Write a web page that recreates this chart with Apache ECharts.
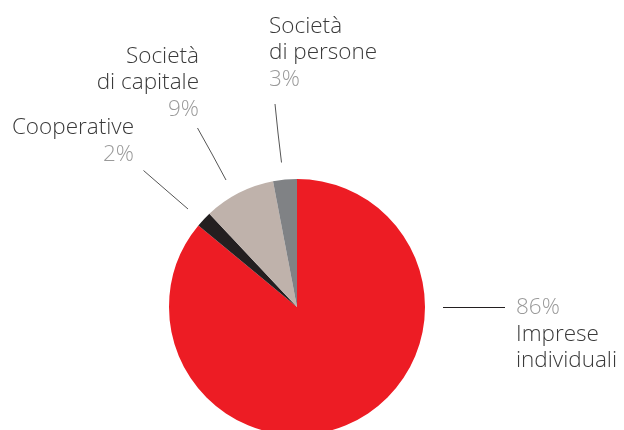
<!DOCTYPE html>
<html><head><meta charset="utf-8">
<script src="https://cdn.jsdelivr.net/npm/echarts@6/dist/echarts.min.js"></script>
<style>html,body{margin:0;padding:0;background:#fff}#c{width:624px;height:430px}</style>
</head><body><div id="c"></div>
<script>
const categories = ['Imprese individuali', 'Cooperative', 'Società di capitale', 'Società di persone'];
const labelLines = [['Imprese', 'individuali'], ['Cooperative'], ['Società', 'di capitale'], ['Società', 'di persone']];
const values = [86, 2, 9, 3];
const colors = ['#ED1C24', '#231F20', '#BFB2AB', '#808285'];

const layouts = [
  {x: 516, y: 294.5, align: 'left', pts: [[443, 307.5], [474, 307.5], [505, 307.5]], lc: '#231F20'},
  {x: 134, y: 114.5, align: 'right', pts: [[188, 209], [166, 190], [143.5, 170.5]], lc: '#555'},
  {x: 199, y: 43, align: 'right', pts: [[226, 180], [212, 154], [197.5, 128]], lc: '#555'},
  {x: 269, y: 13, align: 'left', pts: [[281.5, 162.5], [278, 133], [275, 104]], lc: '#555'}
];

function fmt(i) {
  const names = labelLines[i].map(s => '{n|' + s + '}');
  const pct = '{p|' + values[i] + '%}';
  return i === 0 ? [pct].concat(names).join('\n') : names.concat([pct]).join('\n');
}

const FONT = '"Open Sans"';
const chart = echarts.init(document.getElementById('c'), null, {renderer: 'canvas'});
chart.setOption({
  animation: false,
  series: [{
    type: 'pie',
    center: [297, 307],
    radius: 128,
    startAngle: 90,
    clockwise: true,
    avoidLabelOverlap: false,
    itemStyle: {borderWidth: 0},
    label: {
      show: true,
      position: 'outside',
      fontFamily: FONT,
      fontWeight: 300,
      rich: {
        n: {fontFamily: FONT, fontWeight: 300, fontSize: 22.5, lineHeight: 26.5, color: '#3a3a3a'},
        p: {fontFamily: FONT, fontWeight: 300, fontSize: 22.5, lineHeight: 26.5, color: '#9a9a9a'}
      }
    },
    labelLine: {show: true, length: 10, length2: 10, smooth: false},
    emphasis: {disabled: true},
    labelLayout: function (params) {
      const l = layouts[params.dataIndex];
      return {x: l.x, y: l.y, align: l.align, verticalAlign: 'top', labelLinePoints: l.pts, hideOverlap: false, moveOverlap: null};
    },
    data: categories.map((c, i) => ({
      name: c,
      value: values[i],
      itemStyle: {color: colors[i]},
      label: {formatter: fmt(i), align: layouts[i].align,
        rich: {
          n: {align: layouts[i].align},
          p: {align: layouts[i].align}
        }},
      labelLine: {lineStyle: {color: layouts[i].lc, width: 1}}
    }))
  }]
});
</script></body></html>
